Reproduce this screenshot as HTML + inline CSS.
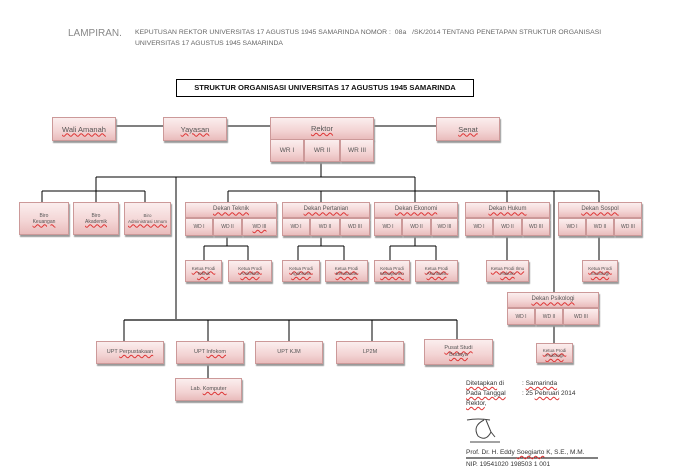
<!DOCTYPE html>
<html><head><meta charset="utf-8"><style>
body{margin:0;width:677px;height:476px;background:#fff;position:relative;overflow:hidden;font-family:"Liberation Sans",sans-serif}
.b{position:absolute;box-sizing:border-box;border:1px solid #c99;background:linear-gradient(#fbeeee,#f3d4d4 60%,#e9bcbc);box-shadow:1px 2px 1px #999;color:#555;text-align:center;font-size:7px;line-height:1.2;display:flex;align-items:center;justify-content:center;flex-direction:column;white-space:nowrap;overflow:hidden}
.t{position:absolute;font-size:7px;color:#666;white-space:nowrap}
svg{position:absolute;left:0;top:0}
.u{text-decoration:underline wavy #d33;text-decoration-thickness:1px}
.s{font-size:5px}
.b.s{font-size:4.5px;white-space:normal}
</style></head><body>
<div class="t" style="left:68px;top:28px;font-size:10px;color:#888">LAMPIRAN.</div>
<div class="t" style="left:135px;top:29px;font-size:6.8px;letter-spacing:0.05px">KEPUTUSAN REKTOR UNIVERSITAS 17 AGUSTUS 1945 SAMARINDA NOMOR :&nbsp; 08a &nbsp;&nbsp;/SK/2014 TENTANG PENETAPAN STRUKTUR ORGANISASI</div>
<div class="t" style="left:135px;top:40px;font-size:6.8px">UNIVERSITAS 17 AGUSTUS 1945 SAMARINDA</div>
<div style="position:absolute;left:176px;top:79px;width:298px;height:18px;box-sizing:border-box;border:1px solid #000;font-size:7.6px;font-weight:bold;color:#111;text-align:center;line-height:16px;white-space:nowrap">STRUKTUR ORGANISASI UNIVERSITAS 17 AGUSTUS 1945 SAMARINDA</div>
<svg width="677" height="476" fill="none" stroke="#000" stroke-width="1">
<path d="M116 126H163M227 126H270M374 126H436"/>
<path d="M321 162V177M96 177H415M415 177V203M96 177V191M42 191H145M42 191V202M96 191V202M145 191V202"/>
<path d="M176 177V320"/>
<path d="M228 191H599M228 191V202M321 191V202M507 191V202M599 191V202M554 191V292"/>
<path d="M227 236V246M204 246H248M204 246V260M248 246V260"/>
<path d="M321 236V246M298 246H344M298 246V260M344 246V260"/>
<path d="M415 236V246M390 246H436M390 246V260M436 246V260"/>
<path d="M507 236V260M599 236V260M554 325V343"/>
<path d="M124 320H457" stroke="#666" stroke-width="2"/>
<path d="M124 320V341M208 320V341M289 320V341M372 320V341M457 320V339M208 364V378"/>
<path d="M467 420Q478 418 490 420M484 420Q472 426 478 436Q486 442 491 432L486 420M491 432L495 437M470 442H500" stroke="#444"/>
<path d="M466 458H598" stroke="#000"/>
</svg>
<div class="b" style="left:52px;top:117px;width:64px;height:24px;font-size:7.5px"><span class="u">Wali Amanah</span></div>
<div class="b" style="left:163px;top:117px;width:64px;height:24px;font-size:7.5px"><span class="u">Yayasan</span></div>
<div class="b" style="left:436px;top:117px;width:64px;height:24px;font-size:7.5px"><span class="u">Senat</span></div>
<div class="b" style="left:270px;top:117px;width:104px;height:23px;font-size:7.5px"><span class="u">Rektor</span></div>
<div class="b" style="left:270px;top:139px;width:34px;height:23px;font-size:6.5px">WR I</div>
<div class="b" style="left:304px;top:139px;width:36px;height:23px;font-size:6.5px">WR II</div>
<div class="b" style="left:340px;top:139px;width:34px;height:23px;font-size:6.5px">WR III</div>
<div class="b" style="left:19px;top:202px;width:50px;height:33px;font-size:5px">Biro<br><span class="u">Keuangan</span></div>
<div class="b" style="left:73px;top:202px;width:46px;height:33px;font-size:5px">Biro<br><span class="u">Akademik</span></div>
<div class="b" style="left:124px;top:202px;width:47px;height:33px;font-size:4.5px;white-space:normal">Biro<br><span class="u">Administrasi Umum</span></div>
<div class="b" style="left:185px;top:202px;width:92px;height:16px;font-size:6px"><span class="u">Dekan Teknik</span></div>
<div class="b" style="left:185px;top:218px;width:28px;height:18px" ><span class="s">WD I</span></div>
<div class="b" style="left:213px;top:218px;width:29px;height:18px"><span class="s">WD II</span></div>
<div class="b" style="left:242px;top:218px;width:35px;height:18px"><span class="s u">WD III</span></div>
<div class="b" style="left:282px;top:202px;width:88px;height:16px;font-size:6px"><span class="u">Dekan Pertanian</span></div>
<div class="b" style="left:282px;top:218px;width:28px;height:18px"><span class="s">WD I</span></div>
<div class="b" style="left:310px;top:218px;width:30px;height:18px"><span class="s">WD II</span></div>
<div class="b" style="left:340px;top:218px;width:30px;height:18px"><span class="s">WD III</span></div>
<div class="b" style="left:374px;top:202px;width:84px;height:16px;font-size:6px"><span class="u">Dekan Ekonomi</span></div>
<div class="b" style="left:374px;top:218px;width:28px;height:18px"><span class="s">WD I</span></div>
<div class="b" style="left:402px;top:218px;width:29px;height:18px"><span class="s">WD II</span></div>
<div class="b" style="left:431px;top:218px;width:27px;height:18px"><span class="s">WD III</span></div>
<div class="b" style="left:465px;top:202px;width:85px;height:16px;font-size:6px"><span class="u">Dekan Hukum</span></div>
<div class="b" style="left:465px;top:218px;width:28px;height:18px"><span class="s">WD I</span></div>
<div class="b" style="left:493px;top:218px;width:29px;height:18px"><span class="s">WD II</span></div>
<div class="b" style="left:522px;top:218px;width:28px;height:18px"><span class="s">WD III</span></div>
<div class="b" style="left:558px;top:202px;width:84px;height:16px;font-size:6px"><span class="u">Dekan Sospol</span></div>
<div class="b" style="left:558px;top:218px;width:28px;height:18px"><span class="s">WD I</span></div>
<div class="b" style="left:586px;top:218px;width:28px;height:18px"><span class="s">WD II</span></div>
<div class="b" style="left:614px;top:218px;width:28px;height:18px"><span class="s">WD III</span></div>
<div class="b" style="left:507px;top:292px;width:92px;height:16px;font-size:6px"><span class="u">Dekan Psikologi</span></div>
<div class="b" style="left:507px;top:308px;width:28px;height:17px"><span class="s">WD I</span></div>
<div class="b" style="left:535px;top:308px;width:28px;height:17px"><span class="s">WD II</span></div>
<div class="b" style="left:563px;top:308px;width:36px;height:17px"><span class="s">WD III</span></div>
<div class="b s" style="left:185px;top:260px;width:37px;height:22px"><span class="u">Ketua Prodi Teknik</span></div>
<div class="b s" style="left:228px;top:260px;width:44px;height:22px"><span class="u">Ketua Prodi Arsitektur</span></div>
<div class="b s" style="left:282px;top:260px;width:38px;height:22px"><span class="u">Ketua Prodi Agribisnis</span></div>
<div class="b s" style="left:325px;top:260px;width:43px;height:22px"><span class="u">Ketua Prodi Kehutanan</span></div>
<div class="b s" style="left:374px;top:260px;width:36px;height:22px"><span class="u">Ketua Prodi Manajemen</span></div>
<div class="b s" style="left:415px;top:260px;width:43px;height:22px"><span class="u">Ketua Prodi Akuntansi</span></div>
<div class="b s" style="left:486px;top:260px;width:43px;height:22px"><span class="u">Ketua Prodi Ilmu Hukum</span></div>
<div class="b s" style="left:582px;top:260px;width:36px;height:22px"><span class="u">Ketua Prodi Sosiologi</span></div>
<div class="b s" style="left:536px;top:343px;width:37px;height:20px"><span class="u">Ketua Prodi Psikologi</span></div>
<div class="b" style="left:96px;top:341px;width:68px;height:23px;font-size:5.5px"><span>UPT <span class="u">Perpustakaan</span></span></div>
<div class="b" style="left:176px;top:341px;width:68px;height:23px;font-size:5.5px"><span>UPT <span class="u">Infokom</span></span></div>
<div class="b" style="left:255px;top:341px;width:68px;height:23px;font-size:5.5px">UPT KJM</div>
<div class="b" style="left:336px;top:341px;width:68px;height:23px;font-size:5.5px">LP2M</div>
<div class="b" style="left:424px;top:339px;width:69px;height:26px;font-size:5.5px;white-space:normal"><span class="u">Pusat Studi</span><span class="u">Budaya</span></div>
<div class="b" style="left:175px;top:378px;width:67px;height:23px;font-size:5.5px"><span>Lab. <span class="u">Komputer</span></span></div>
<div class="t" style="left:466px;top:380px;font-size:6.5px;color:#333"><span class="u">Ditetapkan</span> di</div>
<div class="t" style="left:522px;top:380px;font-size:6.5px;color:#333">: <span class="u">Samarinda</span></div>
<div class="t" style="left:466px;top:390px;font-size:6.5px;color:#333"><span class="u">Pada Tanggal</span></div>
<div class="t" style="left:522px;top:390px;font-size:6.5px;color:#333">: 25 <span class="u">Pebruari</span> 2014</div>
<div class="t" style="left:466px;top:400px;font-size:6.5px;color:#333"><span class="u">Rektor</span>,</div>
<div class="t" style="left:466px;top:449px;font-size:6.5px;color:#333">Prof. Dr. H. Eddy <span class="u">Soegiarto</span> K, S.E., M.M.</div>
<div class="t" style="left:466px;top:461px;font-size:6.5px;color:#333">NIP. 19541020 198503 1 001</div>
</body></html>
